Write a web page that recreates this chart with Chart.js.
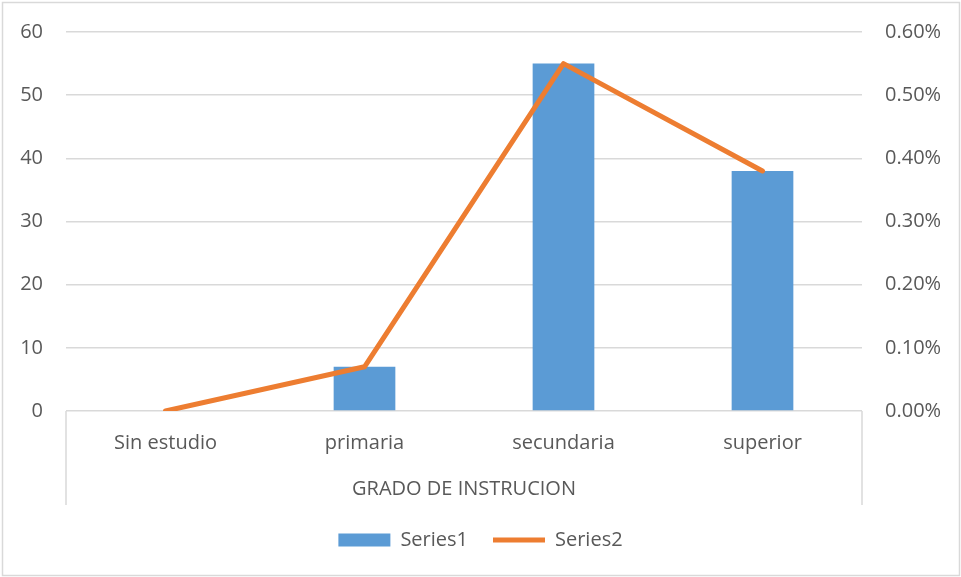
<!DOCTYPE html>
<html>
<head>
<meta charset="utf-8">
<script src="https://cdn.jsdelivr.net/npm/chart.js@4.4.1/dist/chart.umd.min.js"></script>
<style>
  html, body { margin: 0; padding: 0; background: #fff; }
  #wrap { width: 961px; height: 577px; position: relative; }
</style>
</head>
<body>
<div id="wrap"><canvas id="gradoChart" width="961" height="577"></canvas></div>
<script>
// Chart data - grado de instruccion
const categories = ['Sin estudio', 'primaria', 'secundaria', 'superior'];
const series1 = [0, 7, 55, 38];
const series2 = [0, 0.0007, 0.0055, 0.0038];
const axisTitle = 'GRADO DE INSTRUCION';

const TEXT = '#595959';
const GRID = '#d9d9d9';

Chart.defaults.color = TEXT;
Chart.defaults.font.family = "'Open Sans', sans-serif";
Chart.defaults.font.size = 20;

// chart frame + category box lines under the axis
const framePlugin = {
    id: 'frame',
    beforeDraw(chart) {
        const ctx = chart.ctx;
        ctx.save();
        ctx.fillStyle = '#fff';
        ctx.fillRect(0, 0, chart.width, chart.height);
        ctx.strokeStyle = GRID;
        ctx.lineWidth = 1.5;
        ctx.strokeRect(2.5, 2.5, chart.width - 4, chart.height - 4);
        ctx.restore();
    },
    afterDraw(chart) {
        const ctx = chart.ctx;
        const a = chart.chartArea;
        const x = chart.scales.x;
        ctx.save();
        ctx.strokeStyle = GRID;
        ctx.lineWidth = 1.5;
        ctx.beginPath();
        ctx.moveTo(a.left, a.bottom);
        ctx.lineTo(a.left, x.bottom);
        ctx.moveTo(a.right, a.bottom);
        ctx.lineTo(a.right, x.bottom);
        ctx.stroke();
        ctx.restore();
    }
};

// fixed axis widths, no extra label padding at top/bottom
const fitSide = w => s => {
    s.width = w;
    s.paddingTop = 0;
    s.paddingBottom = 0;
};

const ctx = document.getElementById('gradoChart').getContext('2d');

new Chart(ctx, {
    data: {
        labels: categories,
        datasets: [
            {
                type: 'bar',
                label: 'Series1',
                data: series1,
                yAxisID: 'y',
                order: 2,
                backgroundColor: '#5b9bd5',
                borderWidth: 0,
                barPercentage: 0.31,
                categoryPercentage: 1,
                pointStyle: 'rect'
            },
            {
                type: 'line',
                label: 'Series2',
                data: series2,
                yAxisID: 'y1',
                order: 1,
                borderColor: '#ed7d31',
                backgroundColor: '#ed7d31',
                borderWidth: 5,
                borderCapStyle: 'round',
                borderJoinStyle: 'round',
                tension: 0,
                pointRadius: 0,
                pointStyle: 'line'
            }
        ]
    },
    plugins: [framePlugin],
    options: {
        responsive: false,
        animation: false,
        devicePixelRatio: 1,
        layout: { padding: { top: 32, left: 0, right: 0, bottom: 17 } },
        plugins: {
            tooltip: { enabled: false },
            legend: {
                display: true,
                position: 'bottom',
                labels: {
                    usePointStyle: true,
                    pointStyleWidth: 52,
                    boxWidth: 52,
                    boxHeight: 13,
                    padding: 25,
                    color: TEXT,
                    sort: (a, b) => a.datasetIndex - b.datasetIndex
                }
            }
        },
        scales: {
            x: {
                grid: { display: false, drawTicks: false },
                border: { display: false },
                ticks: { padding: 20, color: TEXT },
                title: {
                    display: true,
                    text: axisTitle,
                    color: TEXT,
                    padding: { top: 4, bottom: 4 }
                },
                afterFit: s => { s.height = 94; }
            },
            y: {
                position: 'left',
                min: 0,
                max: 60,
                ticks: { stepSize: 10, padding: 23, color: TEXT },
                grid: { color: GRID, lineWidth: 1.5, drawTicks: false },
                border: { display: false },
                afterFit: fitSide(66)
            },
            y1: {
                position: 'right',
                min: 0,
                max: 0.006,
                ticks: {
                    stepSize: 0.001,
                    padding: 23,
                    color: TEXT,
                    callback: v => (v * 100).toFixed(2) + '%'
                },
                grid: { display: false, drawTicks: false },
                border: { display: false },
                afterFit: fitSide(99)
            }
        }
    }
});
</script>
</body>
</html>
